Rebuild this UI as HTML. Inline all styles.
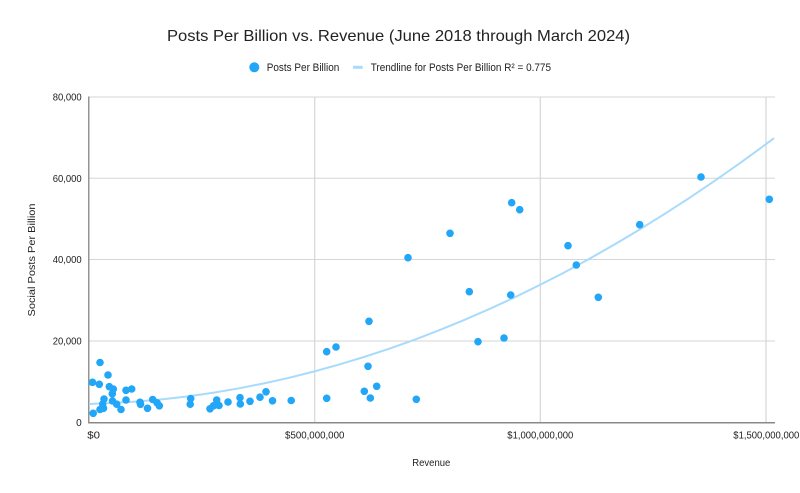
<!DOCTYPE html>
<html>
<head>
<meta charset="utf-8">
<style>
  html, body { margin: 0; padding: 0; background: #ffffff; }
  svg { display: block; }
  text { font-family: "Liberation Sans", Arial, sans-serif; fill: #222; }
</style>
</head>
<body>
<svg width="800" height="493" viewBox="0 0 800 493" xmlns="http://www.w3.org/2000/svg">
  <rect width="800" height="493" fill="#ffffff"/>

  <text x="398.5" y="41" font-size="16" text-anchor="middle" textLength="463" lengthAdjust="spacingAndGlyphs">Posts Per Billion vs. Revenue (June 2018 through March 2024)</text>

  <circle cx="254.3" cy="67.3" r="5" fill="#22a6f8"/>
  <text x="266.7" y="71.2" font-size="11" fill="#333" textLength="72.6" lengthAdjust="spacingAndGlyphs">Posts Per Billion</text>
  <line x1="353" y1="67.3" x2="362.7" y2="67.3" stroke="#a8dbfb" stroke-width="3"/>
  <text x="370.7" y="71.2" font-size="11" fill="#333" textLength="180.3" lengthAdjust="spacingAndGlyphs">Trendline for Posts Per Billion R² = 0.775</text>

  <g stroke="#d6d6d6" stroke-width="1">
    <line x1="89" y1="97" x2="775" y2="97"/>
    <line x1="89" y1="178.3" x2="775" y2="178.3"/>
    <line x1="89" y1="259.5" x2="775" y2="259.5"/>
    <line x1="89" y1="341" x2="775" y2="341"/>
  </g>
  <g stroke="#d6d6d6" stroke-width="1.2">
    <line x1="314.7" y1="97" x2="314.7" y2="422.5"/>
    <line x1="540.3" y1="97" x2="540.3" y2="422.5"/>
    <line x1="766" y1="97" x2="766" y2="422.5"/>
  </g>

  <line x1="88.8" y1="96.5" x2="88.8" y2="423" stroke="#7a7a7a" stroke-width="1.2"/>
  <line x1="88.2" y1="422.8" x2="775" y2="422.8" stroke="#888888" stroke-width="1.5"/>

  <g font-size="10" fill="#333" text-anchor="end">
    <text x="81.7" y="100.6" textLength="29" lengthAdjust="spacingAndGlyphs">80,000</text>
    <text x="81.7" y="181.9" textLength="29" lengthAdjust="spacingAndGlyphs">60,000</text>
    <text x="81.7" y="263.1" textLength="29" lengthAdjust="spacingAndGlyphs">40,000</text>
    <text x="81.7" y="344.6" textLength="29" lengthAdjust="spacingAndGlyphs">20,000</text>
    <text x="81.7" y="426.1">0</text>
  </g>

  <g font-size="10" fill="#333">
    <text x="87.3" y="438.5" textLength="12.7" lengthAdjust="spacingAndGlyphs">$0</text>
    <text x="314.7" y="438.5" text-anchor="middle" textLength="59.3" lengthAdjust="spacingAndGlyphs">$500,000,000</text>
    <text x="540.3" y="438.5" text-anchor="middle" textLength="66" lengthAdjust="spacingAndGlyphs">$1,000,000,000</text>
    <text x="766.3" y="438.5" text-anchor="middle" textLength="66" lengthAdjust="spacingAndGlyphs">$1,500,000,000</text>
  </g>

  <text x="431.3" y="466" font-size="10.5" fill="#222" text-anchor="middle" textLength="38" lengthAdjust="spacingAndGlyphs">Revenue</text>
  <text transform="translate(35,260) rotate(-90)" x="0" y="0" font-size="10.5" fill="#222" text-anchor="middle" textLength="113" lengthAdjust="spacingAndGlyphs">Social Posts Per Billion</text>

  <polyline fill="none" stroke="#a8dbfb" stroke-width="2" points="89,404 114,402.9 139,401.4 164,399.1 189,396.2 214,392.6 239,388.3 264,383.4 289,377.8 314,371.5 339,364.6 364,357 389,348.8 414,339.9 439,330.3 464,320.1 489,309.2 514,297.7 539,285.4 564,272.6 589,259 614,244.8 639,229.9 664,214.3 689,198.2 714,181.3 739,163.8 764,145.6 774,138.2"/>

  <g fill="#22a6f8">
    <circle cx="100" cy="362.5" r="3.8"/>
    <circle cx="108" cy="375" r="3.8"/>
    <circle cx="92.5" cy="382.3" r="3.8"/>
    <circle cx="99.3" cy="384.3" r="3.8"/>
    <circle cx="109.3" cy="386.7" r="3.8"/>
    <circle cx="113.3" cy="389" r="3.8"/>
    <circle cx="126" cy="390.3" r="3.8"/>
    <circle cx="131.7" cy="389" r="3.8"/>
    <circle cx="112.3" cy="393.8" r="3.8"/>
    <circle cx="104" cy="399" r="3.8"/>
    <circle cx="112.5" cy="401" r="3.8"/>
    <circle cx="102.7" cy="404" r="3.8"/>
    <circle cx="116.7" cy="404.2" r="3.8"/>
    <circle cx="126" cy="400" r="3.8"/>
    <circle cx="100" cy="409.5" r="3.8"/>
    <circle cx="103.5" cy="408.3" r="3.8"/>
    <circle cx="121" cy="409.5" r="3.8"/>
    <circle cx="93.2" cy="413.3" r="3.8"/>
    <circle cx="140" cy="402.3" r="3.8"/>
    <circle cx="140.5" cy="404.3" r="3.8"/>
    <circle cx="147.5" cy="408.3" r="3.8"/>
    <circle cx="152.7" cy="399.5" r="3.8"/>
    <circle cx="157" cy="402.8" r="3.8"/>
    <circle cx="159.3" cy="405.8" r="3.8"/>
    <circle cx="190.7" cy="398.5" r="3.8"/>
    <circle cx="190.2" cy="404.2" r="3.8"/>
    <circle cx="210" cy="408.8" r="3.8"/>
    <circle cx="213.5" cy="405.8" r="3.8"/>
    <circle cx="216.7" cy="400" r="3.8"/>
    <circle cx="219" cy="405.5" r="3.8"/>
    <circle cx="228" cy="402" r="3.8"/>
    <circle cx="240" cy="397.7" r="3.8"/>
    <circle cx="240.3" cy="404" r="3.8"/>
    <circle cx="250" cy="401.3" r="3.8"/>
    <circle cx="260" cy="397.2" r="3.8"/>
    <circle cx="266" cy="391.8" r="3.8"/>
    <circle cx="272.5" cy="400.8" r="3.8"/>
    <circle cx="291.2" cy="400.5" r="3.8"/>
    <circle cx="326.7" cy="398.3" r="3.8"/>
    <circle cx="326.7" cy="351.7" r="3.8"/>
    <circle cx="336" cy="347" r="3.8"/>
    <circle cx="369" cy="321.3" r="3.8"/>
    <circle cx="368" cy="366.3" r="3.8"/>
    <circle cx="376.7" cy="386.3" r="3.8"/>
    <circle cx="364.3" cy="391.3" r="3.8"/>
    <circle cx="370.3" cy="398" r="3.8"/>
    <circle cx="416.3" cy="399.3" r="3.8"/>
    <circle cx="408" cy="257.7" r="3.8"/>
    <circle cx="450" cy="233.3" r="3.8"/>
    <circle cx="469.3" cy="291.7" r="3.8"/>
    <circle cx="478" cy="341.7" r="3.8"/>
    <circle cx="504" cy="338" r="3.8"/>
    <circle cx="510.7" cy="295" r="3.8"/>
    <circle cx="511.7" cy="202.7" r="3.8"/>
    <circle cx="519.7" cy="209.7" r="3.8"/>
    <circle cx="568" cy="245.7" r="3.8"/>
    <circle cx="576.3" cy="265" r="3.8"/>
    <circle cx="598.3" cy="297.3" r="3.8"/>
    <circle cx="639.7" cy="224.7" r="3.8"/>
    <circle cx="701" cy="177" r="3.8"/>
    <circle cx="769.3" cy="199.3" r="3.8"/>
  </g>
</svg>
</body>
</html>
